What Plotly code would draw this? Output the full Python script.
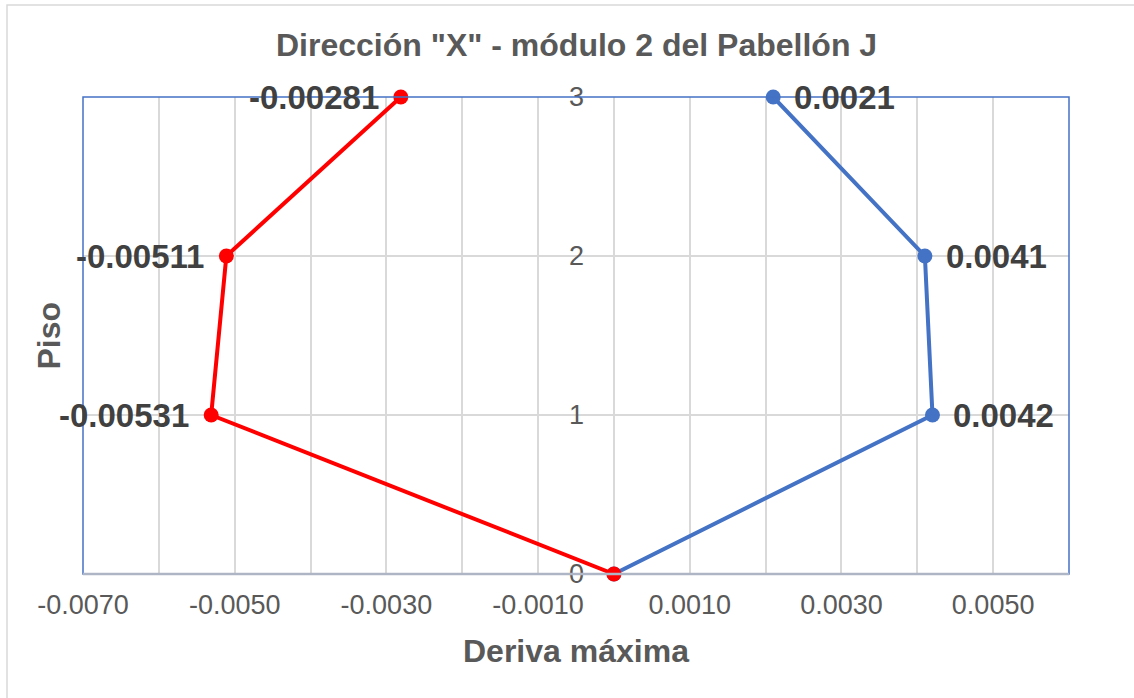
import plotly.graph_objects as go

# Data
pisos = [0, 1, 2, 3]
deriva_neg = [0.0, -0.00531, -0.00511, -0.00281]
deriva_pos = [0.0, 0.0042, 0.0041, 0.0021]
labels_neg = ["", "-0.00531", "-0.00511", "-0.00281"]
labels_pos = ["", "0.0042", "0.0041", "0.0021"]
x_tickvals = [-0.007, -0.006, -0.005, -0.004, -0.003, -0.002, -0.001, 0.0,
              0.001, 0.002, 0.003, 0.004, 0.005, 0.006]
x_ticktext = ["-0.0070", "", "-0.0050", "", "-0.0030", "", "-0.0010", "",
              "0.0010", "", "0.0030", "", "0.0050", ""]
y_tickvals = [0, 1, 2, 3]
y_ticktext = ["0", "1", "2", "3"]

RED = "#FF0000"
BLUE = "#4472C4"
GRID = "#D9D9D9"
TXT = "#595959"
LBL = "#404040"
FONT = "Liberation Sans, Arial, sans-serif"

fig = go.Figure()
fig.add_trace(go.Scatter(x=deriva_pos, y=pisos, mode="lines+markers",
                         line=dict(color=BLUE, width=4),
                         marker=dict(color=BLUE, size=15), showlegend=False, cliponaxis=False))
fig.add_trace(go.Scatter(x=deriva_neg, y=pisos, mode="lines+markers",
                         line=dict(color=RED, width=4),
                         marker=dict(color=RED, size=15), showlegend=False, cliponaxis=False))

annotations = []
for x, y, t in zip(deriva_neg, pisos, labels_neg):
    if t:
        annotations.append(dict(x=x, y=y, xref="x", yref="y", text="<b>%s</b>" % t,
                                showarrow=False, xanchor="right", yanchor="middle",
                                xshift=-20, font=dict(family=FONT, size=33, color=LBL)))
for x, y, t in zip(deriva_pos, pisos, labels_pos):
    if t:
        annotations.append(dict(x=x, y=y, xref="x", yref="y", text="<b>%s</b>" % t,
                                showarrow=False, xanchor="left", yanchor="middle",
                                xshift=19, font=dict(family=FONT, size=33, color=LBL)))

W, H = 1134, 698
L, R, T, B = 83, 65, 97, 124
pw, ph = W - L - R, H - T - B

def px_x(p):
    return (p - L) / pw

def px_y(p):
    return (H - B - p) / ph

annotations.append(dict(x=0.5, y=px_y(45), xref="paper", yref="paper",
                        text="<b>Dirección \"X\" - módulo 2 del Pabellón J</b>",
                        showarrow=False, xanchor="center", yanchor="middle",
                        font=dict(family=FONT, size=32, color=TXT)))
annotations.append(dict(x=0.5, y=px_y(651), xref="paper", yref="paper",
                        text="<b>Deriva máxima</b>", showarrow=False,
                        xanchor="center", yanchor="middle",
                        font=dict(family=FONT, size=32, color=TXT)))
annotations.append(dict(x=px_x(48), y=0.5, xref="paper", yref="paper",
                        text="<b>Piso</b>", showarrow=False, textangle=-90,
                        xanchor="center", yanchor="middle",
                        font=dict(family=FONT, size=32, color=TXT)))

shapes = [
    dict(type="rect", xref="paper", yref="paper", x0=px_x(7), x1=px_x(1145),
         y0=px_y(710), y1=px_y(5), line=dict(color=GRID, width=1.5), layer="below"),
    dict(type="rect", xref="paper", yref="paper", x0=0, x1=1, y0=0, y1=1,
         line=dict(color=BLUE, width=1.5), layer="above"),
    dict(type="line", xref="paper", yref="paper", x0=0, x1=1, y0=0, y1=0,
         line=dict(color="#AEB6C6", width=2.5), layer="above"),
]

fig.update_layout(
    width=W, height=H,
    margin=dict(l=L, r=R, t=T, b=B),
    paper_bgcolor="white", plot_bgcolor="white",
    font=dict(family=FONT, color=TXT),
    annotations=annotations, shapes=shapes,
    xaxis=dict(range=[-0.007, 0.006], tickvals=x_tickvals, ticktext=x_ticktext,
               showgrid=True, gridcolor=GRID, gridwidth=1.5, zeroline=False,
               showline=False, ticks="", ticklabelstandoff=12,
               tickfont=dict(family=FONT, size=27, color=TXT)),
    yaxis=dict(range=[0, 3], tickvals=y_tickvals, ticktext=y_ticktext,
               anchor="free", position=7 / 13,
               showgrid=True, gridcolor=GRID, gridwidth=1.5, zeroline=False,
               showline=False, ticks="", ticklabelstandoff=30,
               tickfont=dict(family=FONT, size=27, color=TXT)),
)

fig.write_html("out.html")
